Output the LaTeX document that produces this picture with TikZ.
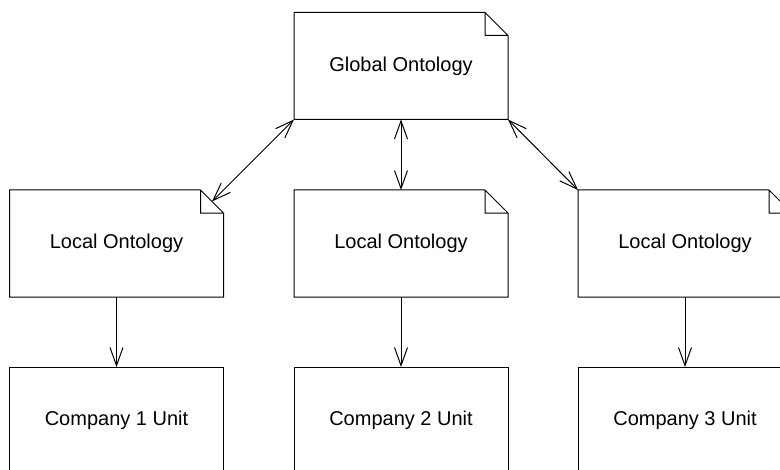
\documentclass[tikz,border=0pt]{standalone}
\usepackage{fontspec}
\setmainfont{Liberation Sans}
\usetikzlibrary{arrows.meta}
\begin{document}
\begin{tikzpicture}[x=0.5pt,y=-0.5pt,
  every node/.style={font=\fontsize{10}{12}\selectfont},
  box/.style={rectangle,inner sep=0pt,outer sep=0pt,minimum width=107pt,minimum height=53.5pt},
  unitbox/.style={box,draw,line width=0.5pt},
  line/.style={line width=0.5pt,black},
  link/.style={line,{Straight Barb[length=9pt,width=6.5pt]}-{Straight Barb[length=9pt,width=6.5pt]}},
  flow/.style={line,-{Straight Barb[length=9pt,width=6.5pt]}}]
\clip (0,0) rectangle (780,470);
\fill[white] (0,0) rectangle (780,470);

% ontology documents
\node[box] (go)  at (401,66)     {Global Ontology};
\node[box] (lo1) at (116.5,243.5) {Local Ontology};
\node[box] (lo2) at (401,243.5)   {Local Ontology};
\node[box] (lo3) at (685,243.5)   {Local Ontology};

% document outlines with folded top-right corner
\foreach \n in {go,lo1,lo2,lo3}{
  \draw[line] (\n.north west) -- ([xshift=-11.5pt]\n.north east)
    -- ([yshift=-11.5pt]\n.north east) -- (\n.south east)
    -- (\n.south west) -- cycle
    ([xshift=-11.5pt]\n.north east) |- ([yshift=-11.5pt]\n.north east);
}

% company units
\node[unitbox] (co1) at (116.5,420.5) {Company 1 Unit};
\node[unitbox] (co2) at (401,420.5)   {Company 2 Unit};
\node[unitbox] (co3) at (685,420.5)   {Company 3 Unit};

% mid point of the fold on the first local ontology
\coordinate (lo1fold) at ([shift={(-5.75pt,-5.75pt)}]lo1.north east);

% links between ontologies
\draw[link] (go.south west) -- (lo1fold);
\draw[link] (go.south) -- (lo2.north);
\draw[link] (go.south east) -- (lo3.north west);

% local ontologies to units
\draw[flow] (lo1.south) -- (co1.north);
\draw[flow] (lo2.south) -- (co2.north);
\draw[flow] (lo3.south) -- (co3.north);
\end{tikzpicture}
\end{document}
